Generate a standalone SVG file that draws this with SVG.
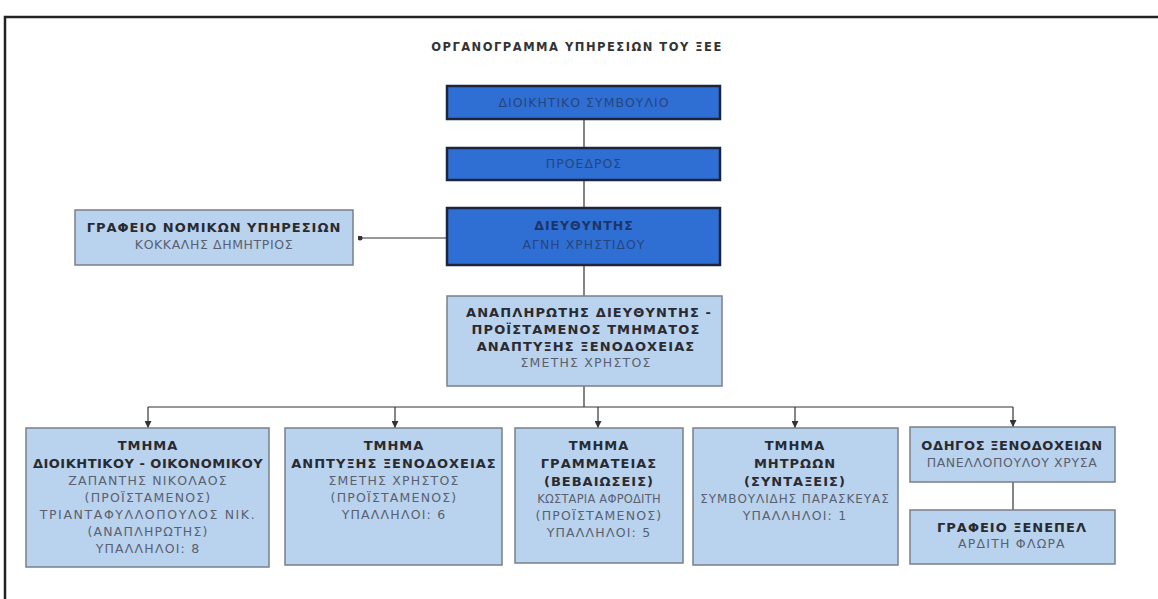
<svg xmlns="http://www.w3.org/2000/svg" width="1158" height="599" viewBox="0 0 1158 599">
<defs>
<marker id="arr" viewBox="0 0 10 10" refX="10" refY="5" markerWidth="7" markerHeight="7" orient="auto" markerUnits="userSpaceOnUse"><path d="M0,0 L10,5 L0,10 z" fill="#333"/></marker>
<marker id="dot" viewBox="0 0 10 10" refX="5" refY="5" markerWidth="5" markerHeight="5" markerUnits="userSpaceOnUse"><circle cx="5" cy="5" r="5" fill="#333"/></marker>
</defs>
<style>
.lb{fill:#b9d3ee;stroke:#7a7f88;stroke-width:1.5}
.db{fill:#2f6fd4;stroke:#1b2540;stroke-width:2.5}
.h{font-family:"DejaVu Sans",Verdana,sans-serif;font-weight:bold;font-size:13px;letter-spacing:1px;fill:#2a2a30;text-anchor:middle}
.n{font-family:"DejaVu Sans",Verdana,sans-serif;font-size:12.5px;letter-spacing:1.2px;fill:#5a6070;text-anchor:middle}
.dh{font-family:"DejaVu Sans",Verdana,sans-serif;font-weight:bold;font-size:12.5px;letter-spacing:1px;fill:#1d3566;text-anchor:middle}
.dn{font-family:"DejaVu Sans",Verdana,sans-serif;font-size:12.5px;letter-spacing:1px;fill:#24457f;text-anchor:middle}
.c{fill:none;stroke:#333;stroke-width:1.2}
</style>
<rect width="1158" height="599" fill="#ffffff"/>
<path d="M5,599 L5,17 L1158,17" fill="none" stroke="#222" stroke-width="2.5"/>
<text x="577" y="51" font-family="DejaVu Sans,Verdana,sans-serif" font-weight="bold" font-size="11.5" fill="#333" text-anchor="middle" letter-spacing="1.5">ΟΡΓΑΝΟΓΡΑΜΜΑ ΥΠΗΡΕΣΙΩΝ ΤΟΥ ΞΕΕ</text>
<g id="connectors">
<line class="c" x1="584" y1="119" x2="584" y2="148"/>
<line class="c" x1="584" y1="180" x2="584" y2="208"/>
<line class="c" x1="584" y1="265" x2="584" y2="296"/>
<line class="c" x1="447" y1="238" x2="360" y2="238" marker-end="url(#dot)"/>
<line class="c" x1="584" y1="386" x2="584" y2="407"/>
<line class="c" x1="148" y1="407" x2="1013" y2="407"/>
<line class="c" x1="148" y1="407" x2="148" y2="428" marker-end="url(#arr)"/>
<line class="c" x1="395" y1="407" x2="395" y2="428" marker-end="url(#arr)"/>
<line class="c" x1="598" y1="407" x2="598" y2="428" marker-end="url(#arr)"/>
<line class="c" x1="795" y1="407" x2="795" y2="428" marker-end="url(#arr)"/>
<line class="c" x1="1013" y1="407" x2="1013" y2="427" marker-end="url(#arr)"/>
<line class="c" x1="1013" y1="482" x2="1013" y2="510"/>
</g>
<g id="board">
<rect class="db" x="447" y="86" width="273" height="33"/>
<text class="dn" x="584" y="107">ΔΙΟΙΚΗΤΙΚΟ ΣΥΜΒΟΥΛΙΟ</text>
</g>
<g id="president">
<rect class="db" x="447" y="148" width="273" height="32"/>
<text class="dn" x="584" y="168">ΠΡΟΕΔΡΟΣ</text>
</g>
<g id="director">
<rect class="db" x="447" y="208" width="273" height="57"/>
<text class="dh" x="584" y="230">ΔΙΕΥΘΥΝΤΗΣ</text>
<text class="dn" x="584" y="249">ΑΓΝΗ ΧΡΗΣΤΙΔΟΥ</text>
</g>
<g id="legal">
<rect class="lb" x="75" y="210" width="278" height="55"/>
<text class="h" x="214" y="232">ΓΡΑΦΕΙΟ ΝΟΜΙΚΩΝ ΥΠΗΡΕΣΙΩΝ</text>
<text class="n" x="214" y="249" style="letter-spacing:0.6px">ΚΟΚΚΑΛΗΣ ΔΗΜΗΤΡΙΟΣ</text>
</g>
<g id="deputy">
<rect class="lb" x="447" y="296" width="275" height="90"/>
<text class="h" x="589" y="317" style="font-size:13px;letter-spacing:1.1px">ΑΝΑΠΛΗΡΩΤΗΣ ΔΙΕΥΘΥΝΤΗΣ -</text>
<text class="h" x="586" y="334" style="font-size:13px;letter-spacing:1.1px">ΠΡΟΪΣΤΑΜΕΝΟΣ ΤΜΗΜΑΤΟΣ</text>
<text class="h" x="586" y="351" style="font-size:13px;letter-spacing:1.1px">ΑΝΑΠΤΥΞΗΣ ΞΕΝΟΔΟΧΕΙΑΣ</text>
<text class="n" x="586" y="367">ΣΜΕΤΗΣ ΧΡΗΣΤΟΣ</text>
</g>
<g id="dept-admin">
<rect class="lb" x="26" y="428" width="243" height="139"/>
<text class="h" x="148" y="450">ΤΜΗΜΑ</text>
<text class="h" x="148" y="468" style="letter-spacing:0.5px">ΔΙΟΙΚΗΤΙΚΟΥ - ΟΙΚΟΝΟΜΙΚΟΥ</text>
<text class="n" x="148" y="485">ΖΑΠΑΝΤΗΣ ΝΙΚΟΛΑΟΣ</text>
<text class="n" x="148" y="502">(ΠΡΟΪΣΤΑΜΕΝΟΣ)</text>
<text class="n" x="148" y="519" style="letter-spacing:1.6px">ΤΡΙΑΝΤΑΦΥΛΛΟΠΟΥΛΟΣ ΝΙΚ.</text>
<text class="n" x="148" y="536">(ΑΝΑΠΛΗΡΩΤΗΣ)</text>
<text class="n" x="148" y="553">ΥΠΑΛΛΗΛΟΙ: 8</text>
</g>
<g id="dept-dev">
<rect class="lb" x="285" y="428" width="217" height="137"/>
<text class="h" x="394" y="450">ΤΜΗΜΑ</text>
<text class="h" x="394" y="468">ΑΝΠΤΥΞΗΣ ΞΕΝΟΔΟΧΕΙΑΣ</text>
<text class="n" x="394" y="485">ΣΜΕΤΗΣ ΧΡΗΣΤΟΣ</text>
<text class="n" x="394" y="502">(ΠΡΟΪΣΤΑΜΕΝΟΣ)</text>
<text class="n" x="394" y="519">ΥΠΑΛΛΗΛΟΙ: 6</text>
</g>
<g id="dept-secretariat">
<rect class="lb" x="515" y="428" width="168" height="135"/>
<text class="h" x="599" y="450">ΤΜΗΜΑ</text>
<text class="h" x="599" y="468">ΓΡΑΜΜΑΤΕΙΑΣ</text>
<text class="h" x="599" y="486">(ΒΕΒΑΙΩΣΕΙΣ)</text>
<text class="n" x="599" y="503" style="font-size:11.5px;letter-spacing:0.2px">ΚΩΣΤΑΡΙΑ ΑΦΡΟΔΙΤΗ</text>
<text class="n" x="599" y="520">(ΠΡΟΪΣΤΑΜΕΝΟΣ)</text>
<text class="n" x="599" y="537">ΥΠΑΛΛΗΛΟΙ: 5</text>
</g>
<g id="dept-registry">
<rect class="lb" x="693" y="428" width="205" height="137"/>
<text class="h" x="795" y="450">ΤΜΗΜΑ</text>
<text class="h" x="795" y="468">ΜΗΤΡΩΩΝ</text>
<text class="h" x="795" y="486">(ΣΥΝΤΑΞΕΙΣ)</text>
<text class="n" x="795" y="503" style="font-size:12px;letter-spacing:0.9px">ΣΥΜΒΟΥΛΙΔΗΣ ΠΑΡΑΣΚΕΥΑΣ</text>
<text class="n" x="795" y="520">ΥΠΑΛΛΗΛΟΙ: 1</text>
</g>
<g id="guide">
<rect class="lb" x="910" y="427" width="205" height="55"/>
<text class="h" x="1012" y="450" style="letter-spacing:0.6px">ΟΔΗΓΟΣ ΞΕΝΟΔΟΧΕΙΩΝ</text>
<text class="n" x="1012" y="467" style="letter-spacing:0.6px">ΠΑΝΕΛΛΟΠΟΥΛΟΥ ΧΡΥΣΑ</text>
</g>
<g id="xenepel">
<rect class="lb" x="910" y="510" width="205" height="54"/>
<text class="h" x="1012" y="532">ΓΡΑΦΕΙΟ ΞΕΝΕΠΕΛ</text>
<text class="n" x="1012" y="548">ΑΡΔΙΤΗ ΦΛΩΡΑ</text>
</g>
</svg>
